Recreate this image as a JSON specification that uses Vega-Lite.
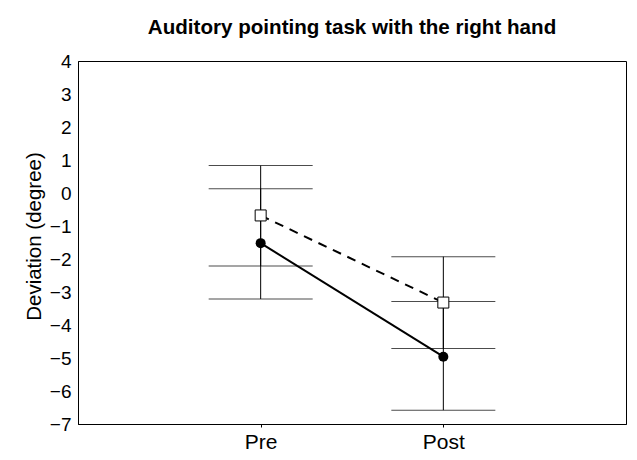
{
  "$schema": "https://vega.github.io/schema/vega-lite/v6.json",
  "width": 548,
  "height": 363,
  "autosize": {"type": "none"},
  "padding": {"left": 78, "top": 61, "right": 11, "bottom": 36},
  "background": "white",
  "title": {
    "text": "Auditory pointing task with the right hand",
    "font": "Liberation Sans",
    "fontSize": 20.6,
    "fontWeight": "bold",
    "color": "black",
    "anchor": "middle",
    "frame": "group",
    "baseline": "alphabetic",
    "offset": -3
  },
  "config": {
    "view": {"stroke": "black", "strokeWidth": 1},
    "axis": {
      "labelFont": "Liberation Sans",
      "titleFont": "Liberation Sans",
      "labelColor": "black",
      "titleColor": "black",
      "domainColor": "black",
      "tickColor": "black",
      "grid": false
    }
  },
  "data": {
    "values": [
      {"phase": "Pre", "group": "open", "mean": -0.68, "lo": -2.21, "hi": 0.83},
      {"phase": "Pre", "group": "filled", "mean": -1.52, "lo": -3.21, "hi": 0.13},
      {"phase": "Post", "group": "open", "mean": -3.32, "lo": -4.71, "hi": -1.93},
      {"phase": "Post", "group": "filled", "mean": -4.96, "lo": -6.58, "hi": -3.29}
    ]
  },
  "encoding": {
    "x": {
      "field": "phase",
      "type": "nominal",
      "sort": ["Pre", "Post"],
      "scale": {"type": "point", "padding": 1},
      "axis": {
        "title": null,
        "labelAngle": 0,
        "labelFontSize": 21,
        "tickSize": 3,
        "labelPadding": 4,
        "domainWidth": 1
      }
    }
  },
  "layer": [
    {
      "mark": {"type": "rule", "color": "black", "strokeWidth": 1},
      "encoding": {
        "y": {
          "field": "lo",
          "type": "quantitative",
          "scale": {"domain": [-7, 4], "nice": false, "zero": false},
          "axis": {
            "title": "Deviation (degree)",
            "titleFontSize": 20.5,
            "titleFontWeight": "normal",
            "titlePadding": 5,
            "titleY": 175,
            "labelFontSize": 19,
            "labelOverlap": false,
            "tickCount": 20,
            "format": "d",
            "values": [-7, -6, -5, -4, -3, -2, -1, 0, 1, 2, 3, 4],
            "tickSize": 0,
            "labelPadding": 7,
            "domainWidth": 1
          }
        },
        "y2": {"field": "hi"}
      }
    },
    {
      "mark": {"type": "tick", "color": "black", "size": 104, "thickness": 1},
      "encoding": {"y": {"field": "lo", "type": "quantitative"}}
    },
    {
      "mark": {"type": "tick", "color": "black", "size": 104, "thickness": 1},
      "encoding": {"y": {"field": "hi", "type": "quantitative"}}
    },
    {
      "transform": [{"filter": "datum.group === 'open'"}],
      "mark": {"type": "line", "color": "black", "strokeWidth": 2, "strokeDash": [9, 7]},
      "encoding": {"y": {"field": "mean", "type": "quantitative"}}
    },
    {
      "transform": [{"filter": "datum.group === 'filled'"}],
      "mark": {"type": "line", "color": "black", "strokeWidth": 2},
      "encoding": {"y": {"field": "mean", "type": "quantitative"}}
    },
    {
      "transform": [{"filter": "datum.group === 'filled'"}],
      "mark": {"type": "point", "shape": "circle", "filled": true, "color": "black", "size": 100, "opacity": 1},
      "encoding": {"y": {"field": "mean", "type": "quantitative"}}
    },
    {
      "transform": [{"filter": "datum.group === 'open'"}],
      "mark": {"type": "point", "shape": "square", "filled": true, "fill": "white", "stroke": "black", "strokeWidth": 1, "size": 121, "opacity": 1},
      "encoding": {"y": {"field": "mean", "type": "quantitative"}}
    }
  ]
}
